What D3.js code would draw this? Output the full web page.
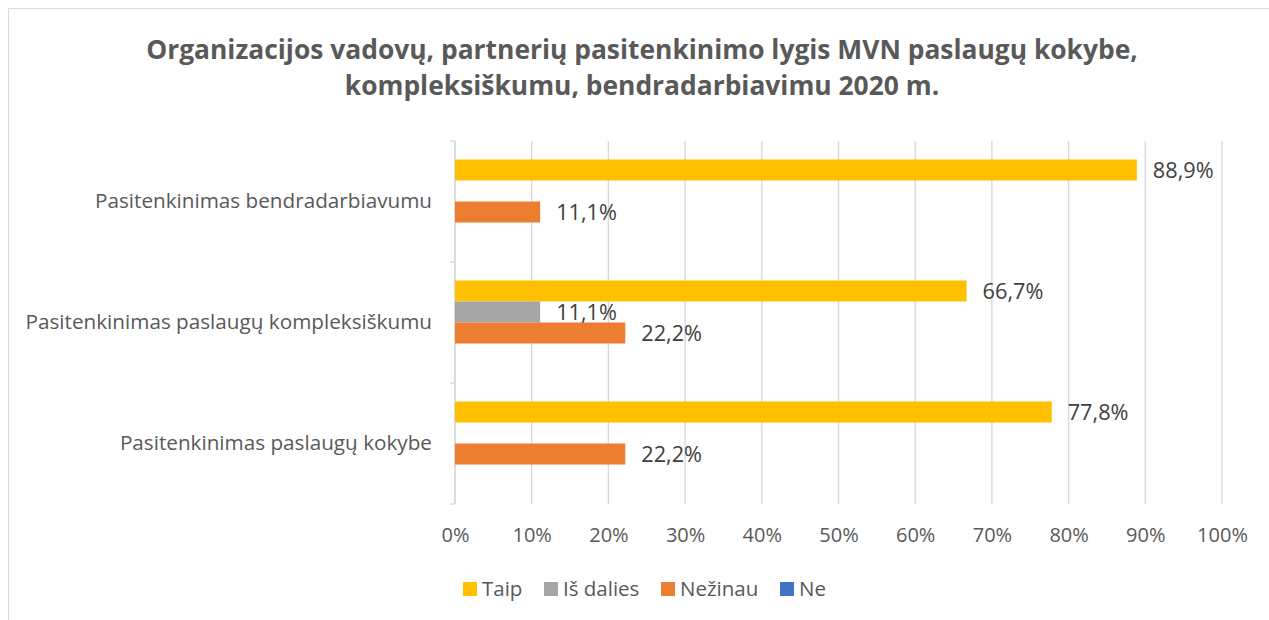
<!DOCTYPE html>
<html>
<head>
<meta charset="utf-8">
<script src="https://cdn.jsdelivr.net/npm/d3@7"></script>
<style>
  body { margin: 0; background: #fff; }
  text { font-family: "Open Sans", Lato, sans-serif; }
</style>
</head>
<body>
<svg id="chart" width="1269" height="620"></svg>
<script>
// chart data
var categories = ["Pasitenkinimas bendradarbiavumu", "Pasitenkinimas paslaugų kompleksiškumu", "Pasitenkinimas paslaugų kokybe"];
var seriesNames = ["Taip", "Iš dalies", "Nežinau", "Ne"];
var taip = [88.9, 66.7, 77.8];
var isDalies = [0, 11.1, 0];
var nezinau = [11.1, 22.2, 22.2];
var ne = [0, 0, 0];
var xTicks = [0, 10, 20, 30, 40, 50, 60, 70, 80, 90, 100];
var titleLines = ["Organizacijos vadovų, partnerių pasitenkinimo lygis MVN paslaugų kokybe,", "kompleksiškumu, bendradarbiavimu 2020 m."];

var colors = {"Taip": "#FFC000", "Iš dalies": "#A5A5A5", "Nežinau": "#ED7D31", "Ne": "#4472C4"};
var values = {"Taip": taip, "Iš dalies": isDalies, "Nežinau": nezinau, "Ne": ne};

var svg = d3.select("#chart");

// outer chart border (only top/left visible in the crop)
svg.append("path")
  .attr("d", "M8.5,620 L8.5,8.5 L1269,8.5")
  .attr("fill", "none")
  .attr("stroke", "#d9d9d9")
  .attr("stroke-width", 1);

// title
svg.append("g").selectAll("text")
  .data(titleLines)
  .enter().append("text")
  .attr("x", 642)
  .attr("y", function (d, i) { return 59 + i * 36; })
  .attr("text-anchor", "middle")
  .attr("font-size", 26.4)
  .attr("font-weight", "bold")
  .attr("fill", "#595959")
  .text(function (d) { return d; });

var x = d3.scaleLinear().domain([0, 100]).range([455, 1222]);
var y0 = d3.scaleBand().domain(categories).range([141, 504]).padding(0);
var y1 = d3.scaleBand().domain(seriesNames).range([0, y0.bandwidth()]).paddingInner(0).paddingOuter(0.88);

// gridlines
svg.append("g").selectAll("line")
  .data(xTicks)
  .enter().append("line")
  .attr("x1", function (d) { return x(d); })
  .attr("x2", function (d) { return x(d); })
  .attr("y1", 141)
  .attr("y2", 504)
  .attr("stroke", "#d9d9d9")
  .attr("stroke-width", 1.4);

// left category axis
var yAxis = svg.append("g")
  .attr("transform", "translate(455,0)")
  .call(d3.axisLeft(y0).tickSize(0).tickPadding(23));
yAxis.select(".domain").remove();
yAxis.selectAll("text")
  .attr("font-size", 20.7)
  .attr("fill", "#595959")
  .style("font-family", "'Open Sans', sans-serif");

var catTicks = [141].concat(categories.map(function (c) { return y0(c) + y0.bandwidth(); }));
svg.append("path")
  .attr("d", "M455,141 L455,504")
  .attr("stroke", "#d9d9d9").attr("stroke-width", 1.4);
svg.append("g").selectAll("line")
  .data(catTicks)
  .enter().append("line")
  .attr("x1", 450).attr("x2", 455)
  .attr("y1", function (d) { return d; })
  .attr("y2", function (d) { return d; })
  .attr("stroke", "#d9d9d9").attr("stroke-width", 1.4);

// bottom value axis
var xAxis = svg.append("g")
  .attr("transform", "translate(0,504)")
  .call(d3.axisBottom(x).tickValues(xTicks).tickSize(0).tickPadding(24)
    .tickFormat(function (d) { return d + "%"; }));
xAxis.select(".domain").remove();
xAxis.selectAll("text")
  .attr("font-size", 20)
  .attr("fill", "#595959")
  .style("font-family", "'Open Sans', sans-serif");

// bars
var rows = [];
categories.forEach(function (c, i) {
  seriesNames.forEach(function (s) {
    rows.push({cat: c, series: s, value: values[s][i]});
  });
});

var bars = svg.append("g");
bars.selectAll("rect")
  .data(rows.filter(function (d) { return d.value > 0; }))
  .enter().append("rect")
  .attr("x", x(0))
  .attr("y", function (d) { return y0(d.cat) + y1(d.series); })
  .attr("width", function (d) { return x(d.value) - x(0); })
  .attr("height", y1.bandwidth())
  .attr("fill", function (d) { return colors[d.series]; });

// data labels
var fmt = function (v) { return d3.format(".1f")(v).replace(".", ",") + "%"; };
bars.selectAll("text")
  .data(rows.filter(function (d) { return d.value > 0; }))
  .enter().append("text")
  .attr("x", function (d) { return x(d.value) + 16; })
  .attr("y", function (d) { return y0(d.cat) + y1(d.series) + y1.bandwidth() / 2; })
  .attr("dy", "0.36em")
  .attr("font-size", 21.7)
  .attr("fill", "#404040")
  .text(function (d) { return fmt(d.value); });

// legend
var legendX = [463, 544, 661, 780];
var legend = svg.append("g").selectAll("g")
  .data(seriesNames)
  .enter().append("g")
  .attr("transform", function (d, i) { return "translate(" + legendX[i] + ",582)"; });
legend.append("rect")
  .attr("width", 14).attr("height", 14)
  .attr("fill", function (d) { return colors[d]; });
legend.append("text")
  .attr("x", 19).attr("y", 7)
  .attr("dy", "0.36em")
  .attr("font-size", 20.5)
  .attr("fill", "#595959")
  .text(function (d) { return d; });
</script>
</body>
</html>
